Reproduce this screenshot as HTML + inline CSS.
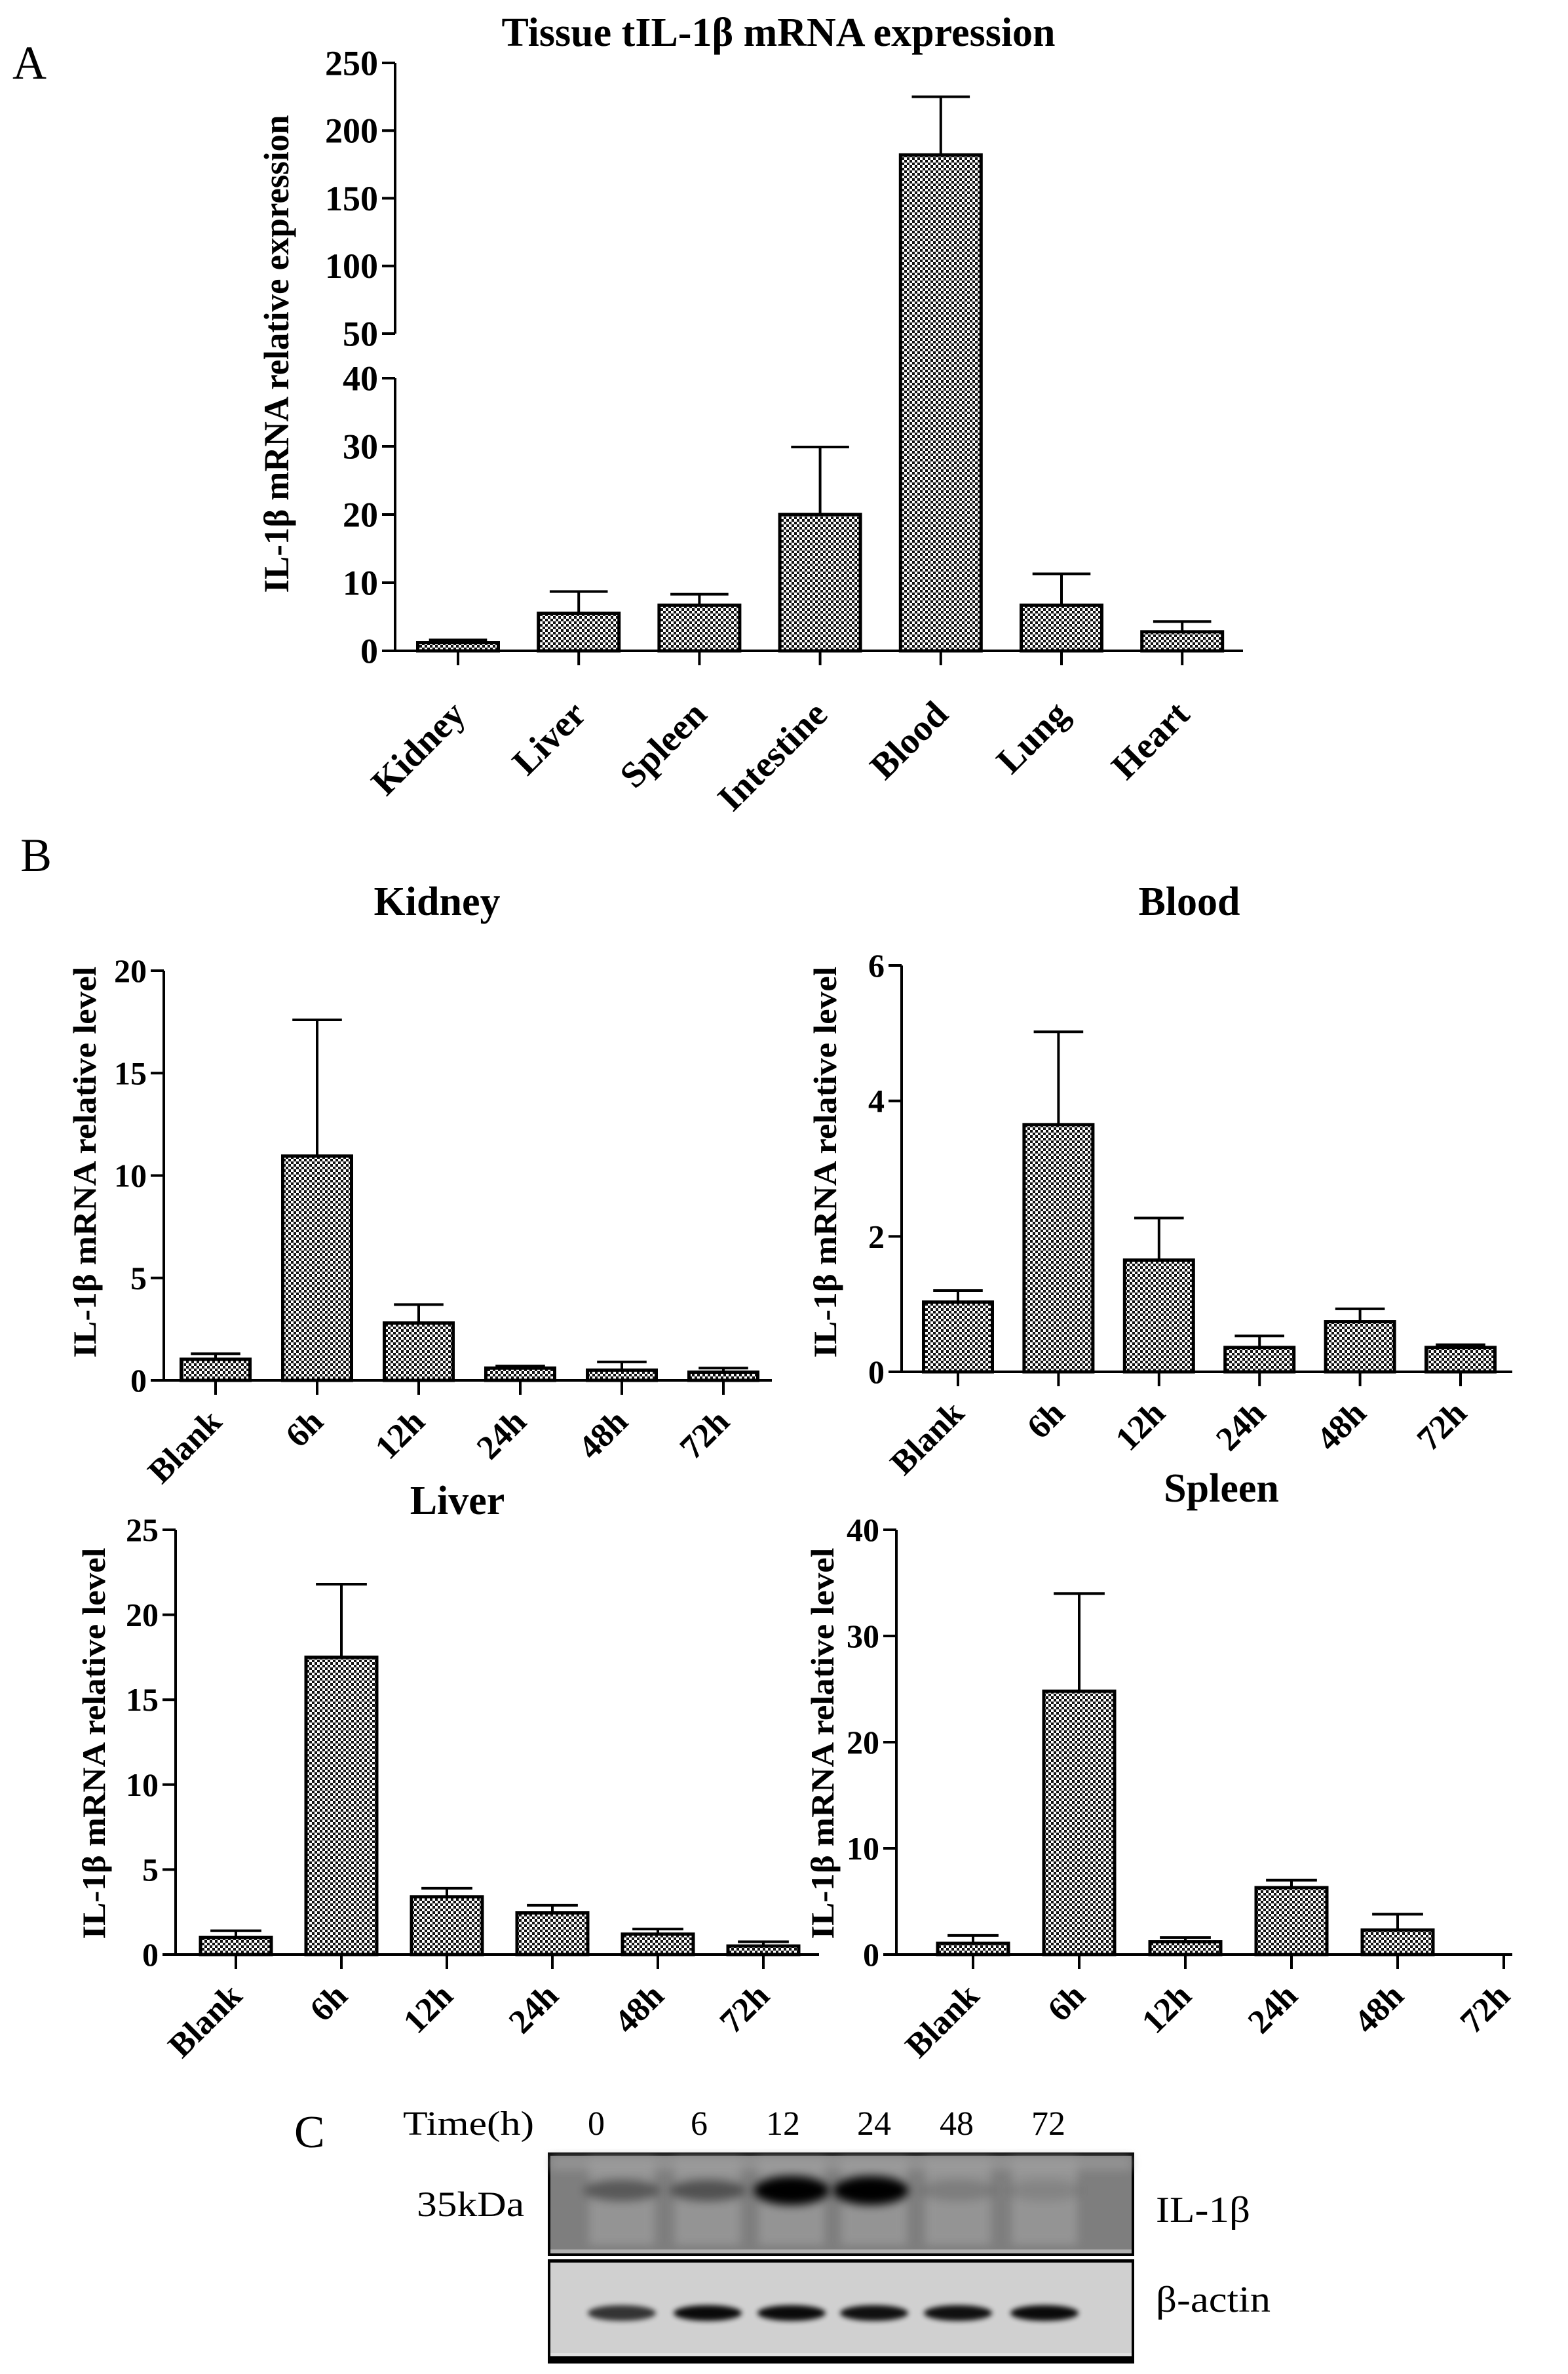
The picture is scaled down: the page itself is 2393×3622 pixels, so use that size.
<!DOCTYPE html>
<html><head><meta charset="utf-8"><style>
html,body{margin:0;padding:0;background:#fff}
svg{display:block}
text{font-family:"Liberation Serif",serif}
.b{font-weight:bold}
</style></head><body>
<svg id="fig" width="2393" height="3622" viewBox="0 0 2393 3622" xmlns="http://www.w3.org/2000/svg">
<defs>
<pattern id="dots" width="8" height="8" patternUnits="userSpaceOnUse">
<rect width="8" height="8" fill="#fff"/><rect x="0" y="0" width="4" height="4" fill="#111"/><rect x="4" y="4" width="4" height="4" fill="#111"/>
</pattern>
<filter id="blur6" x="-50%" y="-50%" width="200%" height="200%"><feGaussianBlur stdDeviation="7"/></filter>
<filter id="blur3" x="-50%" y="-50%" width="200%" height="200%"><feGaussianBlur stdDeviation="4"/></filter>
</defs>
<text x="19" y="120" font-size="72">A</text>
<text x="31" y="1329" font-size="72">B</text>
<text x="449" y="3276" font-size="70">C</text>
<g id="charts"></g>
<g id="blot"></g>
</svg>
<script>
// Panel A data
const aCategories = ["Kidney","Liver","Spleen","Intestine","Blood","Lung","Heart"];
const aValues = [1.2, 5.5, 6.7, 20, 182, 6.7, 2.8];
const aErrors = [1.6, 8.7, 8.3, 29.9, 225, 11.3, 4.3];
const aTicksLow = [0,10,20,30,40];
const aTicksHigh = [50,100,150,200,250];
// Panel B data
const bCategories = ["Blank","6h","12h","24h","48h","72h"];
const kidneyValues = [1.03, 10.95, 2.8, 0.6, 0.5, 0.4];
const kidneyErrors = [1.3, 17.6, 3.7, 0.7, 0.9, 0.6];
const kidneyTicks = [0,5,10,15,20];
const bloodValues = [1.03, 3.65, 1.65, 0.36, 0.74, 0.36];
const bloodErrors = [1.2, 5.02, 2.27, 0.53, 0.93, 0.4];
const bloodTicks = [0,2,4,6];
const liverValues = [1.0, 17.5, 3.4, 2.45, 1.2, 0.5];
const liverErrors = [1.4, 21.8, 3.9, 2.9, 1.5, 0.75];
const liverTicks = [0,5,10,15,20,25];
const spleenValues = [1.05, 24.8, 1.2, 6.3, 2.3, 0];
const spleenErrors = [1.8, 34, 1.6, 7.0, 3.8, 0];
const spleenTicks = [0,10,20,30,40];
// Panel C
const blotTimes = ["0","6","12","24","48","72"];
const il1bIntensity = [0.4, 0.45, 1.0, 1.0, 0.15, 0.1];
const actinIntensity = [0.75, 0.95, 0.95, 0.92, 0.92, 0.95];

const NS="http://www.w3.org/2000/svg";
const root=document.getElementById('charts');
function mk(tag,attrs,parent,txt){const e=document.createElementNS(NS,tag);for(const k in attrs)e.setAttribute(k,attrs[k]);if(txt!==undefined)e.textContent=txt;(parent||root).appendChild(e);return e;}

function barChart(cfg){
  const g=mk('g',{});
  
  
  const t=mk('text',{x:cfg.titleX,y:cfg.titleY,'font-size':cfg.titleSize,'text-anchor':'middle','class':'b'},g,cfg.title);
  
  
  const yt=mk('text',{x:0,y:0,'font-size':cfg.ytSize,'text-anchor':'middle','class':'b',transform:`translate(${cfg.ytX},${cfg.ytY}) rotate(-90)`,textLength:cfg.ytLen,lengthAdjust:'spacingAndGlyphs'},g,cfg.ytitle);
  
  
  const y=cfg.yScale;
  cfg.axisSegs.forEach(s=>{const l=mk('line',{x1:cfg.x0,x2:cfg.x0,y1:s[0],y2:s[1],stroke:'#000','stroke-width':4},g);
    
    });
  const xa=mk('line',{x1:cfg.x0-20,x2:cfg.x1,y1:y(0),y2:y(0),stroke:'#000','stroke-width':4},g);
  
  
  cfg.ticks.forEach(v=>{
    const yy=y(v);
    const tk=mk('line',{x1:cfg.x0-20,x2:cfg.x0,y1:yy,y2:yy,stroke:'#000','stroke-width':4},g);
    
    
    const tl=mk('text',{x:cfg.x0-26,y:yy+cfg.tickSize*0.34,'font-size':cfg.tickSize,'text-anchor':'end','class':'b'},g,String(v));
    
    
  });
  cfg.cats.forEach((c,i)=>{
    const cx=cfg.cx0+i*cfg.step;
    const top=y(cfg.vals[i]), base=y(0);
    if(cfg.errs[i]>cfg.vals[i]){
      const ey=y(cfg.errs[i]);
      const el=mk('line',{x1:cx,x2:cx,y1:top,y2:ey,stroke:'#000','stroke-width':4},g);
      
      
      const ec=mk('line',{x1:cx-cfg.bw*0.36,x2:cx+cfg.bw*0.36,y1:ey,y2:ey,stroke:'#000','stroke-width':4},g);
      
      
    }
    if(cfg.vals[i]>0){
      const r=mk('rect',{x:cx-cfg.bw/2,y:top,width:cfg.bw,height:base-top,fill:'url(#dots)',stroke:'#000','stroke-width':5},g);
      
      
    }
    const xt=mk('line',{x1:cx,x2:cx,y1:base,y2:base+22,stroke:'#000','stroke-width':4},g);
    
    
    const xl=mk('text',{x:0,y:0,'font-size':cfg.xlSize,'text-anchor':'end','class':'b',transform:`translate(${cx+cfg.xlDx},${base+cfg.xlDy}) rotate(-45)`},g,c);
    
    
  });
}

barChart({name:'tissue-expression-chart',title:'Tissue tIL-1β mRNA expression',titleX:1188,titleY:70,titleSize:62,
  ytitle:'IL-1β mRNA relative expression',ytX:440,ytY:540,ytSize:54,ytLen:729,
  yScale:v=> v<=45 ? 993-v*(993-577)/40 : 509-(v-50)*(509-96)/200,
  axisSegs:[[96,509],[577,993]],x0:603,x1:1897,ticks:aTicksLow.concat(aTicksHigh),tickSize:54,
  cats:aCategories,vals:aValues,errs:aErrors,cx0:699,step:184.2,bw:123,xlSize:56,xlDx:14,xlDy:100});

function linScale(y0,yTop,max){return v=>y0-v*(y0-yTop)/max;}
barChart({name:'kidney-chart',title:'Kidney',titleX:667,titleY:1396,titleSize:62,
  ytitle:'IL-1β mRNA relative level',ytX:146,ytY:1773,ytSize:50,ytLen:597,
  yScale:linScale(2106,1481,20),axisSegs:[[1481,2106]],x0:250,x1:1178,ticks:kidneyTicks,tickSize:50,
  cats:bCategories,vals:kidneyValues,errs:kidneyErrors,cx0:329,step:155,bw:105,xlSize:52,xlDx:12,xlDy:66});
barChart({name:'blood-chart',title:'Blood',titleX:1815,titleY:1396,titleSize:62,
  ytitle:'IL-1β mRNA relative level',ytX:1276,ytY:1773,ytSize:50,ytLen:597,
  yScale:linScale(2093,1473,6),axisSegs:[[1473,2093]],x0:1376,x1:2308,ticks:bloodTicks,tickSize:50,
  cats:bCategories,vals:bloodValues,errs:bloodErrors,cx0:1462,step:153.4,bw:105,xlSize:52,xlDx:12,xlDy:66});
barChart({name:'liver-chart',title:'Liver',titleX:698,titleY:2310,titleSize:62,
  ytitle:'IL-1β mRNA relative level',ytX:160,ytY:2660,ytSize:50,ytLen:597,
  yScale:linScale(2982,2334,25),axisSegs:[[2334,2982]],x0:268,x1:1250,ticks:liverTicks,tickSize:50,
  cats:bCategories,vals:liverValues,errs:liverErrors,cx0:360,step:161,bw:108,xlSize:52,xlDx:12,xlDy:66});
barChart({name:'spleen-chart',title:'Spleen',titleX:1864,titleY:2291,titleSize:62,
  ytitle:'IL-1β mRNA relative level',ytX:1272,ytY:2660,ytSize:50,ytLen:597,
  yScale:linScale(2982,2334,40),axisSegs:[[2334,2982]],x0:1368,x1:2308,ticks:spleenTicks,tickSize:50,
  cats:bCategories,vals:spleenValues,errs:spleenErrors,cx0:1485,step:162,bw:108,xlSize:52,xlDx:12,xlDy:66});

// Panel C blot
const bl=document.getElementById('blot');
function bm(tag,attrs,txt){return mk(tag,attrs,bl,txt);}
const laneX=[949,1080,1208,1334,1462,1594];
const tlab=bm('text',{x:615,y:3257,'font-size':52,textLength:200,lengthAdjust:'spacingAndGlyphs'},'Time(h)');


const timeX=[910,1067,1195,1334,1460,1600];
blotTimes.forEach((t,i)=>{const e=bm('text',{x:timeX[i],y:3257,'font-size':52,'text-anchor':'middle'},t);
  
  });
bm('rect',{x:836,y:3284,width:895,height:158,fill:'#000'});
bm('rect',{x:840,y:3289,width:887,height:146,fill:'#7e7e7e'});
laneX.forEach(x=>bm('rect',{x:x-50,y:3295,width:100,height:130,fill:'#949494',filter:'url(#blur6)'}));
bm('rect',{x:840,y:3289,width:887,height:22,fill:'#a0a0a0',filter:'url(#blur6)',opacity:0.6});
il1bIntensity.forEach((v,i)=>{const e=bm('ellipse',{cx:laneX[i]+(i==3?-5:0),cy:3342,rx:58,ry:v>0.9?22:16,fill:'#000',opacity:v,filter:'url(#blur6)'});
  
  });
bm('rect',{x:840,y:3432,width:887,height:6,fill:'#b0b0b0'});
bm('rect',{x:836,y:3447,width:895,height:159,fill:'#000'});
bm('rect',{x:840,y:3452,width:887,height:142,fill:'#d0d0d0'});
actinIntensity.forEach((v,i)=>{const e=bm('ellipse',{cx:laneX[i],cy:3529,rx:52,ry:12,fill:'#000',opacity:v,filter:'url(#blur3)'});
  
  });
bm('rect',{x:840,y:3590,width:887,height:5,fill:'#e0e0e0'});
const kd=bm('text',{x:636,y:3381,'font-size':54,textLength:164,lengthAdjust:'spacingAndGlyphs'},'35kDa');


const il=bm('text',{x:1764,y:3390,'font-size':56,textLength:144,lengthAdjust:'spacingAndGlyphs'},'IL-1β');


const ac=bm('text',{x:1764,y:3527,'font-size':56,textLength:175,lengthAdjust:'spacingAndGlyphs'},'β-actin');


</script>
</body></html>
